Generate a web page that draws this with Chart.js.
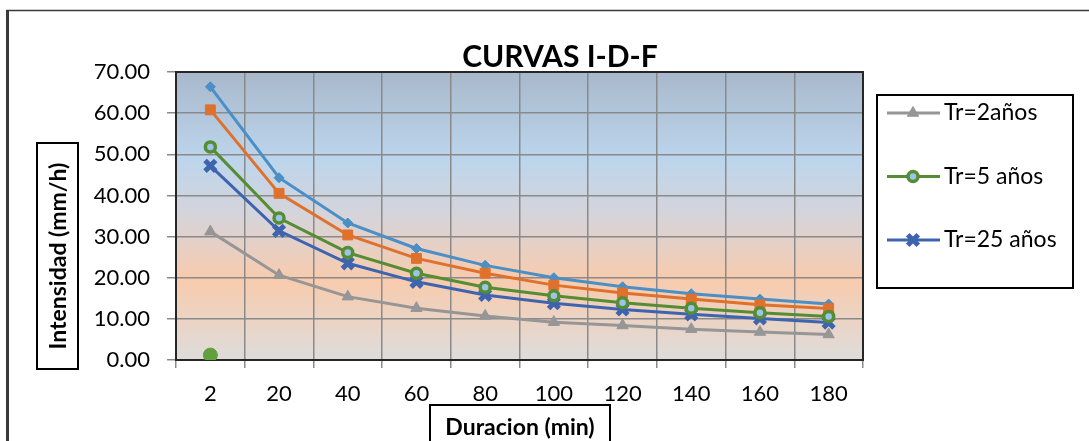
<!DOCTYPE html>
<html>
<head>
<meta charset="utf-8">
<script src="https://cdn.jsdelivr.net/npm/chart.js"></script>
<style>
  body { margin: 0; background: #fff; }
  canvas { display: block; }
</style>
</head>
<body>
<canvas id="idf" width="1089" height="441"></canvas>
<script>
// duraciones (min)
var duraciones = ["2", "20", "40", "60", "80", "100", "120", "140", "160", "180"];
var yTicks = [0, 10, 20, 30, 40, 50, 60, 70];

// intensidades (mm/h)
var tr2 = [31.2, 20.6, 15.4, 12.6, 10.7, 9.2, 8.4, 7.5, 6.8, 6.2];
var tr5 = [51.8, 34.5, 26.1, 21.1, 17.7, 15.6, 13.9, 12.6, 11.5, 10.6];
var tr10 = [60.8, 40.5, 30.4, 24.7, 21.1, 18.2, 16.3, 14.8, 13.4, 12.5];
var tr25 = [47.2, 31.4, 23.5, 19.0, 15.8, 13.8, 12.3, 11.1, 10.1, 9.1];
var tr50 = [66.4, 44.3, 33.3, 27.1, 23.0, 20.0, 17.8, 16.1, 14.8, 13.6];
var puntoSuelto = [1.2, null, null, null, null, null, null, null, null, null];

var FONT = "Lato, 'Open Sans', sans-serif";

// fondo degradado del area de trazado
var fondo = {
  id: 'fondo',
  beforeDraw: function(chart) {
    var ctx = chart.ctx, a = chart.chartArea;
    var g = ctx.createLinearGradient(0, a.top, 0, a.bottom);
    g.addColorStop(0, '#a8b8cb');
    g.addColorStop(0.3, '#bcd5ec');
    g.addColorStop(0.5, '#d6d4da');
    g.addColorStop(0.72, '#f8cbad');
    g.addColorStop(1, '#dedcdb');
    ctx.save();
    ctx.fillStyle = g;
    ctx.fillRect(a.left, a.top, a.right - a.left, a.bottom - a.top);
    ctx.restore();
  },
  beforeDatasetsDraw: function(chart) {
    var ctx = chart.ctx, a = chart.chartArea;
    ctx.save();
    ctx.strokeStyle = '#262626';
    ctx.lineWidth = 2;
    ctx.strokeRect(a.left, a.top, a.right - a.left, a.bottom - a.top);
    ctx.restore();
  }
};

function marcador(ctx, ds, x, y) {
  var opts = {
    pointStyle: ds.pointStyle,
    radius: ds.pointRadius,
    borderWidth: ds.pointBorderWidth || 1,
    rotation: 0
  };
  ctx.fillStyle = ds.pointBackgroundColor;
  ctx.strokeStyle = ds.pointBorderColor;
  ctx.lineWidth = opts.borderWidth;
  Chart.helpers.drawPoint(ctx, opts, x, y);
}

// textos, cajas y leyenda
var adornos = {
  id: 'adornos',
  afterDraw: function(chart) {
    var ctx = chart.ctx;
    ctx.save();
    // marco del grafico
    ctx.strokeStyle = '#3a3a3a';
    ctx.lineWidth = 1.5;
    ctx.beginPath();
    ctx.moveTo(7, 445); ctx.lineTo(7, 10.5); ctx.lineTo(1089, 10.5);
    ctx.stroke();
    ctx.fillStyle = '#3a3a3a';
    ctx.fillRect(6, 10, 3, 431);

    // titulo
    ctx.fillStyle = '#000';
    ctx.font = "bold 30px " + FONT;
    ctx.textAlign = 'center';
    ctx.textBaseline = 'alphabetic';
    ctx.fillText('CURVAS I-D-F', 560, 67);

    // titulo eje x
    ctx.strokeStyle = '#000';
    ctx.lineWidth = 2;
    ctx.strokeRect(430, 405, 180, 40);
    ctx.font = "bold 23px " + FONT;
    ctx.fillText('Duracion (min)', 520, 435);

    // titulo eje y
    ctx.strokeRect(37, 143, 41, 226);
    ctx.font = "bold 23px " + FONT;
    ctx.translate(66, 256);
    ctx.rotate(-Math.PI / 2);
    ctx.fillText('Intensidad (mm/h)', 0, 0);
    ctx.restore();

    // leyenda
    ctx.save();
    ctx.strokeStyle = '#000';
    ctx.lineWidth = 2;
    ctx.strokeRect(877, 95, 196, 193);
    var y = 113;
    chart.data.datasets.forEach(function(ds) {
      if (!ds.enLeyenda) return;
      ctx.strokeStyle = ds.borderColor;
      ctx.lineWidth = 3;
      ctx.beginPath();
      ctx.moveTo(887, y); ctx.lineTo(940, y);
      ctx.stroke();
      marcador(ctx, ds, 913, y);
      ctx.fillStyle = '#000';
      ctx.font = "23px " + FONT;
      ctx.textAlign = 'left';
      ctx.textBaseline = 'middle';
      ctx.fillText(ds.label, 944, y);
      y += 63.5;
    });
    ctx.restore();
  }
};

function serie(label, data, color, style, radius, extra) {
  var ds = {
    label: label,
    data: data,
    borderColor: color,
    backgroundColor: color,
    borderWidth: 3,
    pointStyle: style,
    pointRadius: radius,
    pointBackgroundColor: color,
    pointBorderColor: color,
    pointBorderWidth: 1,
    tension: 0,
    enLeyenda: false
  };
  for (var k in extra) ds[k] = extra[k];
  return ds;
}

new Chart(document.getElementById('idf'), {
  type: 'line',
  data: {
    labels: duraciones,
    datasets: [
      serie('Tr=2años', tr2, '#969696', 'triangle', 6.5, { enLeyenda: true }),
      serie('Tr=5 años', tr5, '#548d34', 'circle', 5, {
        enLeyenda: true, pointBackgroundColor: '#9dc3e6', pointBorderWidth: 3.5
      }),
      serie('Tr=25 años', tr25, '#3e64b0', 'crossRot', 7.5, { enLeyenda: true, pointBorderWidth: 5 }),
      serie('Tr=10 años', tr10, '#e0712c', 'rect', 7, {}),
      serie('Tr=50 años', tr50, '#4a8fc6', 'rectRot', 5, {}),
      serie('punto', puntoSuelto, '#62a03e', 'circle', 7, { showLine: false })
    ]
  },
  options: {
    responsive: false,
    animation: false,
    layout: { padding: { left: 0, top: 72, right: 226, bottom: 0 } },
    plugins: {
      legend: { display: false },
      title: { display: false },
      tooltip: { enabled: false }
    },
    scales: {
      x: {
        offset: true,
        grid: { offset: true, color: '#8a8a8a', lineWidth: 1.5, tickLength: 8 },
        border: { display: false },
        ticks: { color: '#000', font: { family: FONT, size: 22 }, padding: 13, maxRotation: 0 },
        afterFit: function(s) { s.height = 81; }
      },
      y: {
        min: 0,
        max: 70,
        afterBuildTicks: function(s) { s.ticks = yTicks.map(function(v) { return { value: v }; }); },
        grid: { color: '#8a8a8a', lineWidth: 1.5, tickLength: 9 },
        border: { display: false },
        ticks: {
          color: '#000',
          font: { family: FONT, size: 22 },
          padding: 17,
          callback: function(v) { return v.toFixed(2); }
        },
        afterFit: function(s) { s.width = 176; }
      }
    }
  },
  plugins: [fondo, adornos]
});
</script>
</body>
</html>
